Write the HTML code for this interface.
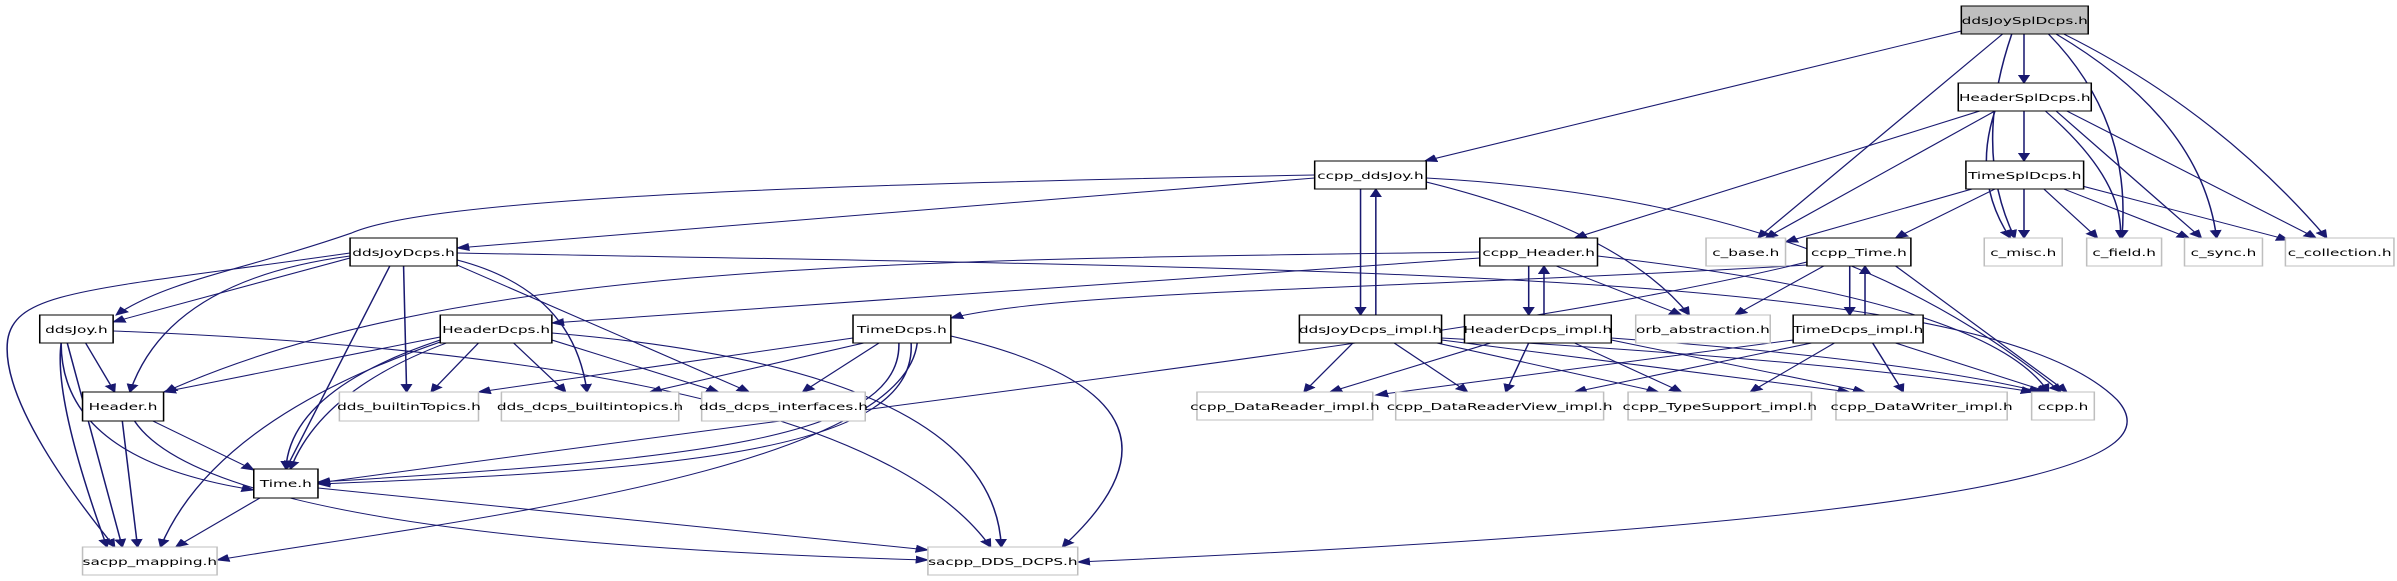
<!DOCTYPE html>
<html><head><meta charset="utf-8"><style>
html,body{margin:0;padding:0;background:#fff;}
svg{display:block;}
text{font-family:"DejaVu Sans","Liberation Sans",sans-serif;font-size:10px;fill:#000;text-anchor:middle;}
.e{fill:none;stroke:#191970;stroke-width:1;marker-end:url(#a);}
.n{fill:#fff;stroke:#000;stroke-width:1;}
.g{fill:#fff;stroke:#bfbfbf;stroke-width:1;}
</style></head><body>
<svg width="2397" height="581" viewBox="0 0 1568 581" preserveAspectRatio="none" xmlns="http://www.w3.org/2000/svg">
<defs><marker id="a" markerWidth="9" markerHeight="8" refX="8" refY="4" orient="auto" markerUnits="userSpaceOnUse"><path d="M0,0 L9,4 L0,8 z" fill="#191970"/></marker></defs>
<g>
<!-- ddsJoySplDcps -->
<path class="e" d="M1283,31 L932,161"/>
<path class="e" d="M1324,34 L1324,83"/>
<path class="e" d="M1310,34 L1150,238"/>
<path class="e" d="M1316,34 Q1290,150 1318,238"/>
<path class="e" d="M1340,34 Q1395,120 1388,238"/>
<path class="e" d="M1345,34 Q1440,120 1450,238"/>
<path class="e" d="M1350,34 Q1450,110 1522,238"/>
<!-- HeaderSplDcps -->
<path class="e" d="M1295,111 L1030,238"/>
<path class="e" d="M1305,111 L1155,238"/>
<path class="e" d="M1305,111 Q1290,180 1315,238"/>
<path class="e" d="M1324,111 L1324,161"/>
<path class="e" d="M1338,111 Q1390,180 1387,238"/>
<path class="e" d="M1345,111 L1440,238"/>
<path class="e" d="M1352,111 L1515,238"/>
<!-- TimeSplDcps -->
<path class="e" d="M1290,189 L1168,242"/>
<path class="e" d="M1305,189 L1240,238"/>
<path class="e" d="M1324,189 L1324,238"/>
<path class="e" d="M1337,189 L1372,238"/>
<path class="e" d="M1350,189 L1432,238"/>
<path class="e" d="M1362,186 L1497,240"/>
<!-- ccpp_ddsJoy -->
<path class="e" d="M860,178 L299,248"/>
<path class="e" d="M860,175 C500,185 280,200 230,233 C160,270 110,280 76,315"/>
<path class="e" d="M890,189 L890,315"/>
<path class="e" d="M900,315 L900,189"/>
<path class="e" d="M933,182 Q1060,230 1105,315"/>
<path class="e" d="M933,178 Q1200,200 1348,392"/>
<!-- ccpp_Header -->
<path class="e" d="M968,252 C600,260 300,260 108,392"/>
<path class="e" d="M968,258 L361,323"/>
<path class="e" d="M1000,266 L1000,315"/>
<path class="e" d="M1010,315 L1010,266"/>
<path class="e" d="M1018,266 L1100,315"/>
<path class="e" d="M1045,256 Q1300,300 1340,392"/>
<!-- ccpp_Time -->
<path class="e" d="M1182,265 C900,290 700,290 622,318"/>
<path class="e" d="M1182,262 C1000,330 700,380 208,483"/>
<path class="e" d="M1193,266 L1135,315"/>
<path class="e" d="M1210,266 L1210,315"/>
<path class="e" d="M1220,315 L1220,266"/>
<path class="e" d="M1240,266 L1352,392"/>
<!-- ddsJoyDcps -->
<path class="e" d="M229,258 L74,322"/>
<path class="e" d="M229,256 Q110,280 85,392"/>
<path class="e" d="M229,253 C60,290 10,290 5,340 C0,400 50,500 75,547"/>
<path class="e" d="M255,266 L187,469"/>
<path class="e" d="M264,266 L266,392"/>
<path class="e" d="M299,260 Q375,290 384,392"/>
<path class="e" d="M299,265 L490,392"/>
<path class="e" d="M299,253 C900,270 1300,270 1385,400 C1420,460 1330,520 705,562"/>
<!-- ddsJoy -->
<path class="e" d="M56,343 L75,392"/>
<path class="e" d="M44,343 L80,547"/>
<path class="e" d="M40,343 Q35,400 70,547"/>
<path class="e" d="M40,343 Q40,460 166,490"/>
<path class="e" d="M74,331 Q560,360 648,547"/>
<!-- HeaderDcps -->
<path class="e" d="M288,337 L107,392"/>
<path class="e" d="M288,340 Q190,390 187,469"/>
<path class="e" d="M292,343 Q210,390 190,469"/>
<path class="e" d="M288,342 Q140,420 105,547"/>
<path class="e" d="M313,343 L282,392"/>
<path class="e" d="M336,343 L370,392"/>
<path class="e" d="M361,340 L470,392"/>
<path class="e" d="M361,333 Q650,370 655,547"/>
<!-- TimeDcps -->
<path class="e" d="M558,338 L313,392"/>
<path class="e" d="M565,343 L425,392"/>
<path class="e" d="M575,343 L525,392"/>
<path class="e" d="M588,343 C590,440 450,460 208,482"/>
<path class="e" d="M596,343 C600,450 450,470 208,484"/>
<path class="e" d="M600,343 C590,470 300,520 142,560"/>
<path class="e" d="M622,336 Q800,400 695,547"/>
<!-- Header.h -->
<path class="e" d="M100,421 L166,470"/>
<path class="e" d="M80,421 L90,547"/>
<path class="e" d="M88,421 Q140,540 607,560"/>
<!-- Time.h -->
<path class="e" d="M170,498 L115,547"/>
<path class="e" d="M208,488 L607,550"/>
<!-- impl -->
<path class="e" d="M885,343 L853,392"/>
<path class="e" d="M912,343 L960,392"/>
<path class="e" d="M940,343 L1085,392"/>
<path class="e" d="M943,340 L1210,392"/>
<path class="e" d="M943,338 Q1200,360 1330,392"/>
<path class="e" d="M975,343 L870,392"/>
<path class="e" d="M1000,343 L985,392"/>
<path class="e" d="M1030,343 L1100,392"/>
<path class="e" d="M1054,340 L1220,392"/>
<path class="e" d="M1054,338 Q1250,360 1335,392"/>
<path class="e" d="M1173,340 L900,395"/>
<path class="e" d="M1185,343 L1030,392"/>
<path class="e" d="M1200,343 L1145,392"/>
<path class="e" d="M1225,343 L1245,392"/>
<path class="e" d="M1240,343 L1340,392"/>
</g>
<g>
<rect x="1283" y="6" width="83" height="28" fill="#bfbfbf" stroke="#000"/><text x="1324.5" y="24">ddsJoySplDcps.h</text>
<rect class="n" x="1281" y="83" width="87" height="28"/><text x="1324.5" y="101">HeaderSplDcps.h</text>
<rect class="n" x="860" y="161" width="73" height="28"/><text x="896.5" y="179">ccpp_ddsJoy.h</text>
<rect class="n" x="1286" y="161" width="77" height="28"/><text x="1324.5" y="179">TimeSplDcps.h</text>
<rect class="n" x="968" y="238" width="77" height="28"/><text x="1006.5" y="256">ccpp_Header.h</text>
<rect class="g" x="1116" y="238" width="52" height="28"/><text x="1142" y="256">c_base.h</text>
<rect class="n" x="1182" y="238" width="68" height="28"/><text x="1216" y="256">ccpp_Time.h</text>
<rect class="g" x="1298" y="238" width="51" height="28"/><text x="1323.5" y="256">c_misc.h</text>
<rect class="g" x="1365" y="238" width="49" height="28"/><text x="1389.5" y="256">c_field.h</text>
<rect class="g" x="1429" y="238" width="51" height="28"/><text x="1454.5" y="256">c_sync.h</text>
<rect class="g" x="1495" y="238" width="71" height="28"/><text x="1530.5" y="256">c_collection.h</text>
<rect class="n" x="229" y="238" width="70" height="28"/><text x="264" y="256">ddsJoyDcps.h</text>
<rect class="n" x="26" y="315" width="48" height="28"/><text x="50" y="333">ddsJoy.h</text>
<rect class="n" x="288" y="315" width="73" height="28"/><text x="324.5" y="333">HeaderDcps.h</text>
<rect class="n" x="558" y="315" width="64" height="28"/><text x="590" y="333">TimeDcps.h</text>
<rect class="n" x="850" y="315" width="93" height="28"/><text x="896.5" y="333">ddsJoyDcps_impl.h</text>
<rect class="n" x="958" y="315" width="96" height="28"/><text x="1006" y="333">HeaderDcps_impl.h</text>
<rect class="g" x="1070" y="315" width="88" height="28"/><text x="1114" y="333">orb_abstraction.h</text>
<rect class="n" x="1173" y="315" width="85" height="28"/><text x="1215.5" y="333">TimeDcps_impl.h</text>
<rect class="n" x="54" y="392" width="53" height="29"/><text x="80.5" y="410">Header.h</text>
<rect class="g" x="222" y="392" width="91" height="29"/><text x="267.5" y="410">dds_builtinTopics.h</text>
<rect class="g" x="328" y="392" width="116" height="29"/><text x="386" y="410">dds_dcps_builtintopics.h</text>
<rect class="g" x="459" y="392" width="107" height="29"/><text x="512.5" y="410">dds_dcps_interfaces.h</text>
<rect class="g" x="783" y="392" width="115" height="28"/><text x="840.5" y="410">ccpp_DataReader_impl.h</text>
<rect class="g" x="913" y="392" width="136" height="28"/><text x="981" y="410">ccpp_DataReaderView_impl.h</text>
<rect class="g" x="1065" y="392" width="120" height="28"/><text x="1125" y="410">ccpp_TypeSupport_impl.h</text>
<rect class="g" x="1201" y="392" width="112" height="28"/><text x="1257" y="410">ccpp_DataWriter_impl.h</text>
<rect class="g" x="1329" y="392" width="41" height="28"/><text x="1349.5" y="410">ccpp.h</text>
<rect class="n" x="166" y="469" width="42" height="29"/><text x="187" y="487">Time.h</text>
<rect class="g" x="54" y="547" width="88" height="28"/><text x="98" y="565">sacpp_mapping.h</text>
<rect class="g" x="607" y="547" width="98" height="28"/><text x="656" y="565">sacpp_DDS_DCPS.h</text>
</g>
</svg>
</body></html>
